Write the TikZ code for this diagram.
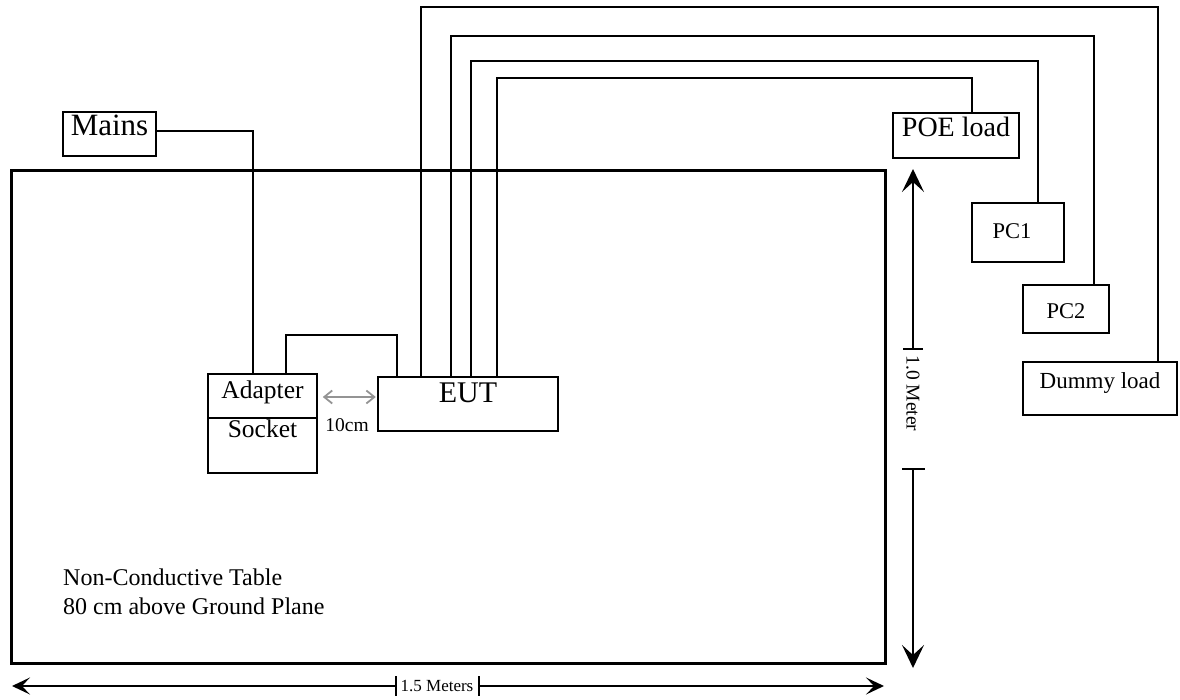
\documentclass[tikz,border=0pt]{standalone}
\usepackage{fontspec}
\setmainfont{Liberation Serif}
\usetikzlibrary{positioning,arrows.meta}

\begin{document}
\begin{tikzpicture}[
  x=1pt, y=-1pt,
  box/.style={rectangle, draw=black, line width=1.6pt, inner sep=0pt, align=center},
  wire/.style={draw=black, line width=1.6pt},
  vdim/.style={-{Stealth[length=23pt,width=22pt,inset=10pt]}, line width=1.6pt},
  hdim/.style={-{Stealth[length=18pt,width=17pt,inset=8pt]}, line width=1.6pt},
  gap/.style={{Straight Barb[length=8pt,width=13pt]}-{Straight Barb[length=8pt,width=13pt]}, draw=black!42, line width=1.8pt}
]
\useasboundingbox (0,0) rectangle (1180,700);

% table and its note
\node[draw, line width=3pt, minimum width=874pt, minimum height=492pt, inner sep=0pt] (table) at (448,417) {};
\node[anchor=north west, inner sep=0pt, align=left, font=\fontsize{24}{29}\selectfont] (tabletxt) at (63,569)
  {Non-Conductive Table\\80 cm above Ground Plane};

% devices
\node[box, minimum width=93pt, minimum height=44pt, text height=21pt, text depth=17pt, font=\fontsize{31}{31}\selectfont] (mains) at (109.5,134) {Mains};
\node[box, minimum width=109pt, minimum height=44pt, text height=17pt, text depth=13pt, font=\fontsize{25.5}{26}\selectfont] (adapter) at (262.5,396) {Adapter};
\node[box, minimum width=109pt, minimum height=55pt, text height=17pt, text depth=34pt, font=\fontsize{25.5}{26}\selectfont] (socket) at (262.5,445.5) {Socket};
\node[box, line width=2pt, minimum width=180pt, minimum height=54pt, text height=20pt, text depth=24pt, font=\fontsize{30}{30}\selectfont] (eut) at (468,404) {EUT};
\node[box, minimum width=126pt, minimum height=45pt, text height=19pt, text depth=16.5pt, font=\fontsize{28}{28}\selectfont] (poe) at (956,135.5) {POE load};
\node[box, minimum width=92pt, minimum height=59pt, text height=15.2pt, text depth=3.6pt, font=\fontsize{22.5}{23}\selectfont] (pc1) at (1018,232.5) {PC1\hspace{12pt}};
\node[box, minimum width=86pt, minimum height=48pt, text height=20pt, text depth=1.4pt, font=\fontsize{22.5}{23}\selectfont] (pc2) at (1066,309) {PC2};
\node[box, minimum width=154pt, minimum height=53pt, text height=16pt, text depth=16pt, font=\fontsize{23}{23}\selectfont] (dummy) at (1100,388.5) {Dummy load};

% cables
\draw[wire] ([yshift=3pt]mains.east) -| ([xshift=-9.5pt]adapter.north);
\draw[wire] ([xshift=23.5pt]adapter.north) -- ++(0,38pt) -| ([xshift=-71pt]eut.north);
\draw[wire] ([xshift=-47pt]eut.north) -- ++(0,369pt) -| ([xshift=58pt]dummy.north);
\draw[wire] ([xshift=-17pt]eut.north) -- ++(0,340pt) -| ([xshift=28pt]pc2.north);
\draw[wire] ([xshift=3pt]eut.north) -- ++(0,315pt) -| ([xshift=20pt]pc1.north);
\draw[wire] ([xshift=29pt]eut.north) -- ++(0,298pt) -| ([xshift=16pt]poe.north);

% 10cm spacing
\draw[gap] ([xshift=5pt,yshift=-1pt]adapter.east) -- ([xshift=58pt,yshift=-1pt]adapter.east);
\node[font=\fontsize{19.5}{20}\selectfont, inner sep=0pt] (gaptxt) at (347,425) {10cm};

% 1.0 meter
\coordinate (vtop) at (913,169);
\coordinate (vt1) at (913,349);
\coordinate (vt2) at (913,469);
\coordinate (vbot) at (913,668);
\draw[vdim] (vt1) -- (vtop);
\draw[vdim] (vt2) -- (vbot);
\draw[line width=1.6pt] ([xshift=-10pt]vt1) -- ([xshift=10pt]vt1);
\draw[line width=1.6pt] ([xshift=-11pt]vt2) -- ([xshift=12pt]vt2);
\node[rotate=-90, font=\fontsize{19.5}{20}\selectfont, inner sep=0pt] (vtxt) at (913,393.5) {1.0 Meter};

% 1.5 meters
\coordinate (hleft) at (12,686);
\coordinate (ht1) at (396,686);
\coordinate (ht2) at (479,686);
\coordinate (hright) at (884,686);
\draw[hdim] (ht1) -- (hleft);
\draw[hdim] (ht2) -- (hright);
\draw[line width=1.6pt] ([yshift=10pt]ht1) -- ([yshift=-10pt]ht1);
\draw[line width=1.6pt] ([yshift=10pt]ht2) -- ([yshift=-10pt]ht2);
\node[font=\fontsize{17}{17}\selectfont, inner sep=0pt] (htxt) at (437,686) {1.5 Meters};
\end{tikzpicture}
\end{document}
